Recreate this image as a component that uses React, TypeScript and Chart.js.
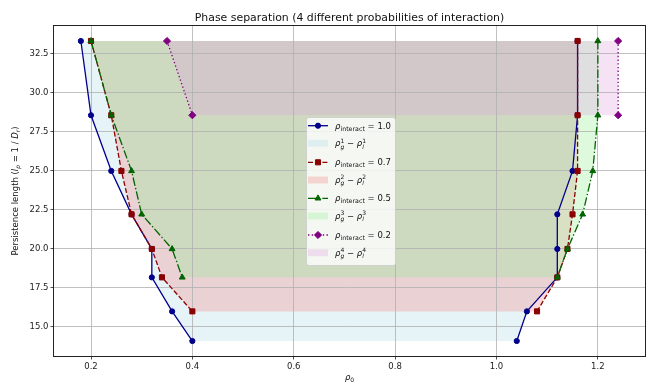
import React, { useEffect, useRef } from 'react';
import { Chart, registerables } from 'chart.js';

Chart.register(...registerables);

// ---- data ----
const persistence = [33.33, 28.57, 25.0, 22.22, 20.0, 18.18, 16.0, 14.1];
const probLabels = ['1.0', '0.7', '0.5', '0.2'];

// rho_interact = 1.0 (uses persistence[0..7])
const blueLeftX = [0.18, 0.2, 0.24, 0.28, 0.32, 0.32, 0.36, 0.4];
const blueRightX = [1.16, 1.16, 1.15, 1.12, 1.12, 1.12, 1.06, 1.04];
// rho_interact = 0.7 (persistence[0..6])
const redLeftX = [0.2, 0.24, 0.26, 0.28, 0.32, 0.34, 0.4];
const redRightX = [1.16, 1.16, 1.16, 1.15, 1.14, 1.12, 1.08];
// rho_interact = 0.5 (persistence[0..5])
const greenLeftX = [0.2, 0.24, 0.28, 0.3, 0.36, 0.38];
const greenRightX = [1.2, 1.2, 1.19, 1.17, 1.14, 1.12];
// rho_interact = 0.2 (persistence[0..1])
const purpleLeftX = [0.35, 0.4];
const purpleRightX = [1.24, 1.24];

const xTicks = [0.2, 0.4, 0.6, 0.8, 1.0, 1.2];
const yTicks = [15.0, 17.5, 20.0, 22.5, 25.0, 27.5, 30.0, 32.5];

const xMin = 0.127, xMax = 1.293, yMin = 13.14, yMax = 34.29;

const FONT = '"DejaVu Sans"';

const lineColors = ['#00008b', '#8b0000', '#006400', '#800080'];
const fillColors = [
  'rgba(173,216,230,0.3)',
  'rgba(240,128,128,0.3)',
  'rgba(144,238,144,0.3)',
  'rgba(221,160,221,0.3)',
];
const dashes: number[][] = [[], [5, 2.2], [8.5, 2.2, 1.4, 2.2], [1.4, 2.3]];
const pStyles = ['circle', 'rect', 'triangle', 'rectRot'];
const pRadius = [2.6, 3.6, 3.4, 3.6];

const series = [
  { left: blueLeftX, right: blueRightX },
  { left: redLeftX, right: redRightX },
  { left: greenLeftX, right: greenRightX },
  { left: purpleLeftX, right: purpleRightX },
];

const pts = (xs: number[]) => xs.map((x, i) => ({ x, y: persistence[i] }));

function lineDs(data: any[], k: number) {
  return {
    data,
    showLine: true,
    borderColor: lineColors[k],
    backgroundColor: lineColors[k],
    borderWidth: 1.3,
    borderDash: dashes[k],
    pointStyle: pStyles[k],
    pointRadius: pRadius[k],
    pointBorderWidth: 1,
    pointBackgroundColor: lineColors[k],
    pointBorderColor: lineColors[k],
    fill: false,
    tension: 0,
  };
}

function fillDs(k: number) {
  const s = series[k];
  const poly = [...pts(s.left), ...pts(s.right).reverse()];
  return {
    data: poly,
    showLine: true,
    borderColor: 'rgba(0,0,0,0)',
    borderWidth: 0.01,
    pointRadius: 0,
    backgroundColor: fillColors[k],
    fill: 'shape',
    tension: 0,
  };
}

type Seg = { t: string; size?: number; it?: boolean; dy?: number; stack?: boolean };

function fontOf(s: Seg) {
  return `${s.it ? 'italic ' : ''}${s.size || 8.5}px ${FONT}`;
}

function drawRich(ctx: CanvasRenderingContext2D, segs: Seg[], x: number, y: number, align: 'left' | 'center') {
  const widths = segs.map((s) => {
    ctx.font = fontOf(s);
    return ctx.measureText(s.t).width;
  });
  const pos: number[] = [];
  let cur = 0, prevStart = 0, prevW = 0;
  segs.forEach((s, i) => {
    if (s.stack) {
      pos.push(prevStart);
      const w = Math.max(prevW, widths[i]);
      cur = prevStart + w;
      prevW = w;
    } else {
      pos.push(cur);
      prevStart = cur;
      prevW = widths[i];
      cur += widths[i];
    }
  });
  const x0 = align === 'center' ? x - cur / 2 : x;
  ctx.textAlign = 'left';
  ctx.textBaseline = 'alphabetic';
  segs.forEach((s, i) => {
    ctx.font = fontOf(s);
    ctx.fillText(s.t, x0 + pos[i], y + (s.dy || 0));
  });
}

const decorPlugin = {
  id: 'decor',
  afterDatasetsDraw(chart: any) {
    const { ctx, chartArea: a } = chart;
    ctx.save();
    ctx.strokeStyle = '#222';
    ctx.lineWidth = 1;
    ctx.strokeRect(a.left - 0.5, a.top - 0.5, a.right - a.left + 1, a.bottom - a.top + 1);
    ctx.restore();
  },
  afterDraw(chart: any) {
    const { ctx, chartArea: a } = chart;
    ctx.save();
    ctx.fillStyle = '#111';
    // title
    ctx.font = `10.9px ${FONT}`;
    ctx.textAlign = 'center';
    ctx.textBaseline = 'alphabetic';
    ctx.fillText('Phase separation (4 different probabilities of interaction)', (a.left + a.right) / 2, 21);

    // x label
    drawRich(ctx, [{ t: 'ρ', it: true }, { t: '0', size: 6, dy: 2 }], (a.left + a.right) / 2, 380, 'center');

    // y label
    ctx.save();
    ctx.translate(15, (a.top + a.bottom) / 2);
    ctx.rotate(-Math.PI / 2);
    drawRich(
      ctx,
      [
        { t: 'Persistence length (' },
        { t: 'l', it: true },
        { t: 'p', it: true, size: 6, dy: 2 },
        { t: ' = 1 / ' },
        { t: 'D', it: true },
        { t: 'r', it: true, size: 6, dy: 2 },
        { t: ')' },
      ],
      0,
      3,
      'center'
    );
    ctx.restore();

    // legend
    const lx = 306, ly = 117, lw = 89, lh = 148;
    ctx.beginPath();
    if ((ctx as any).roundRect) (ctx as any).roundRect(lx + 0.5, ly + 0.5, lw, lh, 2.5);
    else ctx.rect(lx + 0.5, ly + 0.5, lw, lh);
    ctx.fillStyle = 'rgba(255,255,255,0.8)';
    ctx.fill();
    ctx.strokeStyle = 'rgba(204,204,204,0.8)';
    ctx.lineWidth = 1;
    ctx.stroke();

    const rows = [125.7, 143.3, 162.3, 180, 198.3, 216, 235, 252.7];
    const hx0 = 308, hx1 = 328, tx = 335;
    for (let k = 0; k < 4; k++) {
      const yl = rows[2 * k];
      const yp = rows[2 * k + 1];
      // line handle
      ctx.save();
      ctx.strokeStyle = lineColors[k];
      ctx.lineWidth = 1.3;
      ctx.setLineDash(dashes[k]);
      ctx.beginPath();
      ctx.moveTo(hx0, yl);
      ctx.lineTo(hx1, yl);
      ctx.stroke();
      ctx.restore();
      // marker
      ctx.save();
      ctx.fillStyle = lineColors[k];
      ctx.strokeStyle = lineColors[k];
      ctx.lineWidth = 1;
      const cx = (hx0 + hx1) / 2;
      ctx.beginPath();
      const r = pRadius[k];
      if (k === 0) ctx.arc(cx, yl, r, 0, Math.PI * 2);
      else if (k === 1) {
        const s = r * Math.SQRT1_2;
        ctx.rect(cx - s, yl - s, 2 * s, 2 * s);
      } else if (k === 2) {
        ctx.moveTo(cx, yl - r);
        ctx.lineTo(cx + r * Math.sin((2 * Math.PI) / 3), yl + r * 0.5);
        ctx.lineTo(cx - r * Math.sin((2 * Math.PI) / 3), yl + r * 0.5);
        ctx.closePath();
      } else {
        ctx.moveTo(cx - r, yl);
        ctx.lineTo(cx, yl - r);
        ctx.lineTo(cx + r, yl);
        ctx.lineTo(cx, yl + r);
        ctx.closePath();
      }
      ctx.fill();
      ctx.stroke();
      ctx.restore();
      // patch
      ctx.fillStyle = fillColors[k];
      ctx.fillRect(hx0, yp - 3.5, hx1 - hx0, 7);

      ctx.fillStyle = '#111';
      drawRich(
        ctx,
        [{ t: 'ρ', it: true }, { t: 'interact', size: 6.3, dy: 2 }, { t: ' = ' + probLabels[k] }],
        tx,
        yl + 3,
        'left'
      );
      const idx = String(k + 1);
      drawRich(
        ctx,
        [
          { t: 'ρ', it: true },
          { t: 'g', it: true, size: 6, dy: 2.3 },
          { t: idx, size: 6, dy: -3.6, stack: true },
          { t: ' − ' },
          { t: 'ρ', it: true },
          { t: 'l', it: true, size: 6, dy: 2.3 },
          { t: idx, size: 6, dy: -3.6, stack: true },
        ],
        tx,
        yp + 3,
        'left'
      );
    }
    ctx.restore();
  },
};

export default function App() {
  const ref = useRef<HTMLCanvasElement>(null);
  useEffect(() => {
    Chart.defaults.font.family = FONT;
    const lineSets: any[] = [];
    // top-most first: purple, green, red, blue
    for (const k of [3, 2, 1, 0]) {
      lineSets.push(lineDs(pts(series[k].left), k));
      lineSets.push(lineDs(pts(series[k].right), k));
    }
    const fillSets = [3, 2, 1, 0].map((k) => fillDs(k));
    const chart = new Chart(ref.current!, {
      type: 'scatter',
      data: { datasets: [...lineSets, ...fillSets] as any },
      plugins: [decorPlugin as any],
      options: {
        responsive: false,
        animation: false,
        devicePixelRatio: 1,
        layout: { autoPadding: false, padding: { top: 26, right: 1, left: 0, bottom: 0 } } as any,
        plugins: {
          legend: { display: false },
          title: { display: false },
          tooltip: { enabled: false },
          filler: { drawTime: 'beforeDraw' } as any,
        },
        scales: {
          x: {
            type: 'linear',
            min: xMin,
            max: xMax,
            afterBuildTicks: (s: any) => {
              s.ticks = xTicks.map((v) => ({ value: v }));
            },
            afterFit: (s: any) => {
              s.height = 27;
            },
            ticks: {
              callback: (v: any) => Number(v).toFixed(1),
              font: { size: 8.5, family: FONT },
              color: '#222',
              padding: 2,
              maxRotation: 0,
              autoSkip: false,
            },
            grid: { color: '#b0b0b0', lineWidth: 0.8, tickColor: '#222', tickLength: 3.5, drawTicks: true },
            border: { display: false },
          },
          y: {
            type: 'linear',
            min: yMin,
            max: yMax,
            afterBuildTicks: (s: any) => {
              s.ticks = yTicks.map((v) => ({ value: v }));
            },
            afterFit: (s: any) => {
              s.width = 54;
            },
            ticks: {
              callback: (v: any) => Number(v).toFixed(1),
              font: { size: 8.5, family: FONT },
              color: '#222',
              padding: 2,
              autoSkip: false,
            },
            grid: { color: '#b0b0b0', lineWidth: 0.8, tickColor: '#222', tickLength: 3.5, drawTicks: true },
            border: { display: false },
          },
        },
      },
    });
    return () => chart.destroy();
  }, []);
  return (
    <div style={{ position: 'absolute', left: 0, top: 0, width: 646, height: 383, background: '#fff' }}>
      <canvas ref={ref} width={646} height={383} style={{ display: 'block' }} />
    </div>
  );
}
